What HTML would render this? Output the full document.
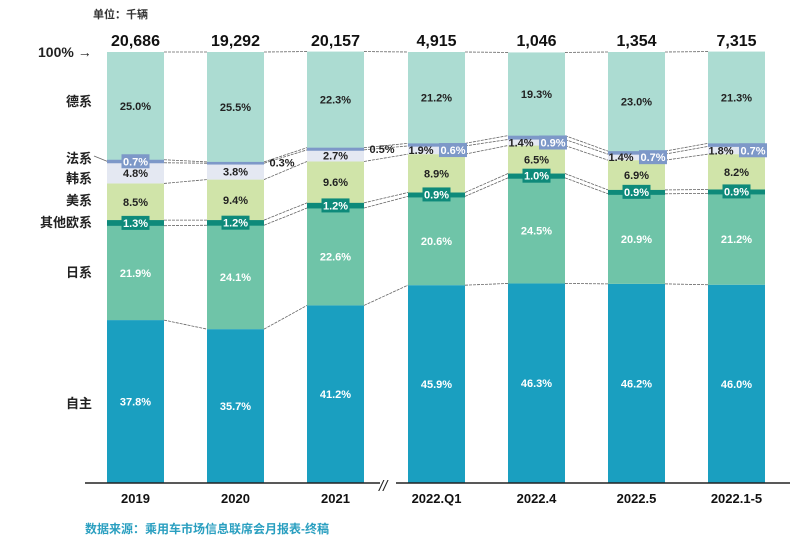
<!DOCTYPE html>
<html><head><meta charset="utf-8">
<style>
body{margin:0;background:#fff;}
svg{display:block;font-family:"Liberation Sans","Noto Sans CJK SC",sans-serif;}
</style></head>
<body>
<svg id="chart" width="802" height="551" viewBox="0 0 802 551" xmlns="http://www.w3.org/2000/svg">
<text x="93" y="18" font-size="11" font-weight="bold" fill="#333">单位：千辆</text>
<text x="38" y="57" font-size="14" font-weight="bold" fill="#222">100% →</text>
<g id="lines"></g>
<g id="bars"></g>
<g id="labels"></g>
<line x1="85" y1="483" x2="790" y2="483" stroke="#222" stroke-width="1.5"/>
<rect x="380" y="474" width="16" height="16" fill="#fff"/>
<text x="379" y="491" font-size="15" fill="#222" font-style="italic">//</text>
<text x="85" y="533" font-size="12" font-weight="bold" fill="#2a9fc0">数据来源：乘用车市场信息联席会月报表-终稿</text>
</svg>
<script>
const categories=["2019","2020","2021","2022.Q1","2022.4","2022.5","2022.1-5"];
const totals=["20,686","19,292","20,157","4,915","1,046","1,354","7,315"];
const seriesNames=["自主","日系","其他欧系","美系","韩系","法系","德系"];
const ziZhu=[37.8,35.7,41.2,45.9,46.3,46.2,46.0];
const riXi=[21.9,24.1,22.6,20.6,24.5,20.9,21.2];
const qitaOu=[1.3,1.2,1.2,0.9,1.0,0.9,0.9];
const meiXi=[8.5,9.4,9.6,8.9,6.5,6.9,8.2];
const hanXi=[4.8,3.8,2.7,1.9,1.4,1.4,1.8];
const faXi=[0.7,0.3,0.5,0.6,0.9,0.7,0.7];
const deXi=[25.0,25.5,22.3,21.2,19.3,23.0,21.3];
const series=[ziZhu,riXi,qitaOu,meiXi,hanXi,faXi,deXi];
const colors=["#1a9fc0","#6fc4a8","#0e8a7a","#d0e4a9","#e4e8f2","#7d98c8","#acdcd2"];
const textColors=["#fff","#fff","#fff","#222","#222","#fff","#222"];
const leftLabelY=[403,272,222,200,178,158,101];
const NS="http://www.w3.org/2000/svg";
const barX=[107,207,307,408,508,608,708], barW=57;
const y0=483,H=431;
function yScale(p){return y0-p/100*H;}
function mk(tag,attrs,parent){const e=document.createElementNS(NS,tag);for(const k in attrs)e.setAttribute(k,attrs[k]);parent.appendChild(e);return e;}
const gB=document.getElementById('bars'),gL=document.getElementById('labels'),gLn=document.getElementById('lines');
const cum=categories.map((c,i)=>{let s=0;return series.map(sr=>{const a=s;s+=sr[i];return [a,s];});});
categories.forEach((c,i)=>{
  const x=barX[i];
  series.forEach((sr,k)=>{
    const [a,b]=cum[i][k];
    let yt=yScale(b),yb=yScale(a);
    const minH=(k===2)?6:(k===5?4:0);
    if(yb-yt<minH){const m=(yt+yb)/2;yt=m-minH/2;yb=m+minH/2;}
    const r=mk('rect',{x:x,y:yt,width:barW,height:yb-yt,fill:colors[k]},gB);
    
    
    const mid=(yScale(a)+yScale(b))/2;
    const v=sr[i].toFixed(1)+'%';
    let lx=x+barW/2, ly=mid+4, box=(k===2||k===5);
    if(k===4&&sr[i]<2.5){lx=x+13;}
    if(k===5){
      if(sr[i]<0.6&&i<3){lx=x+barW+18;box=false;ly=mid+4;}
      else if(i>=3){lx=x+barW-12;ly=(yScale(cum[i][4][0])+yScale(cum[i][4][1]))/2+4;}
    }
    if(box){
      const bw=28;
      const br=mk('rect',{x:lx-bw/2,y:ly-11,width:bw,height:14,fill:colors[k]},gL);
      
      
    }
    const t=mk('text',{x:lx,y:ly,'font-size':11,'font-weight':'bold','text-anchor':'middle',fill:(k===5&&!box)?'#222':textColors[k]},gL);
    t.textContent=v;
    
    
  });
  const tt=mk('text',{x:x+barW/2,y:46,'font-size':16,'font-weight':'bold','text-anchor':'middle',fill:'#111'},gL);
  tt.textContent=totals[i];
  
  
  const cl=mk('text',{x:x+barW/2,y:503,'font-size':13,'font-weight':'bold','text-anchor':'middle',fill:'#111'},gL);
  cl.textContent=c;
  
  
  if(i<categories.length-1){
    for(let k=0;k<series.length;k++){
      const l=mk('line',{x1:x+barW,y1:yScale(cum[i][k][1]),x2:barX[i+1],y2:yScale(cum[i+1][k][1]),stroke:'#666','stroke-width':0.8,'stroke-dasharray':'3,1'},gLn);
      
      
    }
  }
});
seriesNames.forEach((n,k)=>{
  const t=mk('text',{x:92,y:leftLabelY[k]+5,'font-size':13,'font-weight':'bold','text-anchor':'end',fill:'#222'},gL);
  t.textContent=n;
  
  
});
const ld=mk('line',{x1:94,y1:156,x2:107,y2:yScale(cum[0][5][0]+0.35),stroke:'#666','stroke-width':0.8},gL);


</script>
</body></html>
